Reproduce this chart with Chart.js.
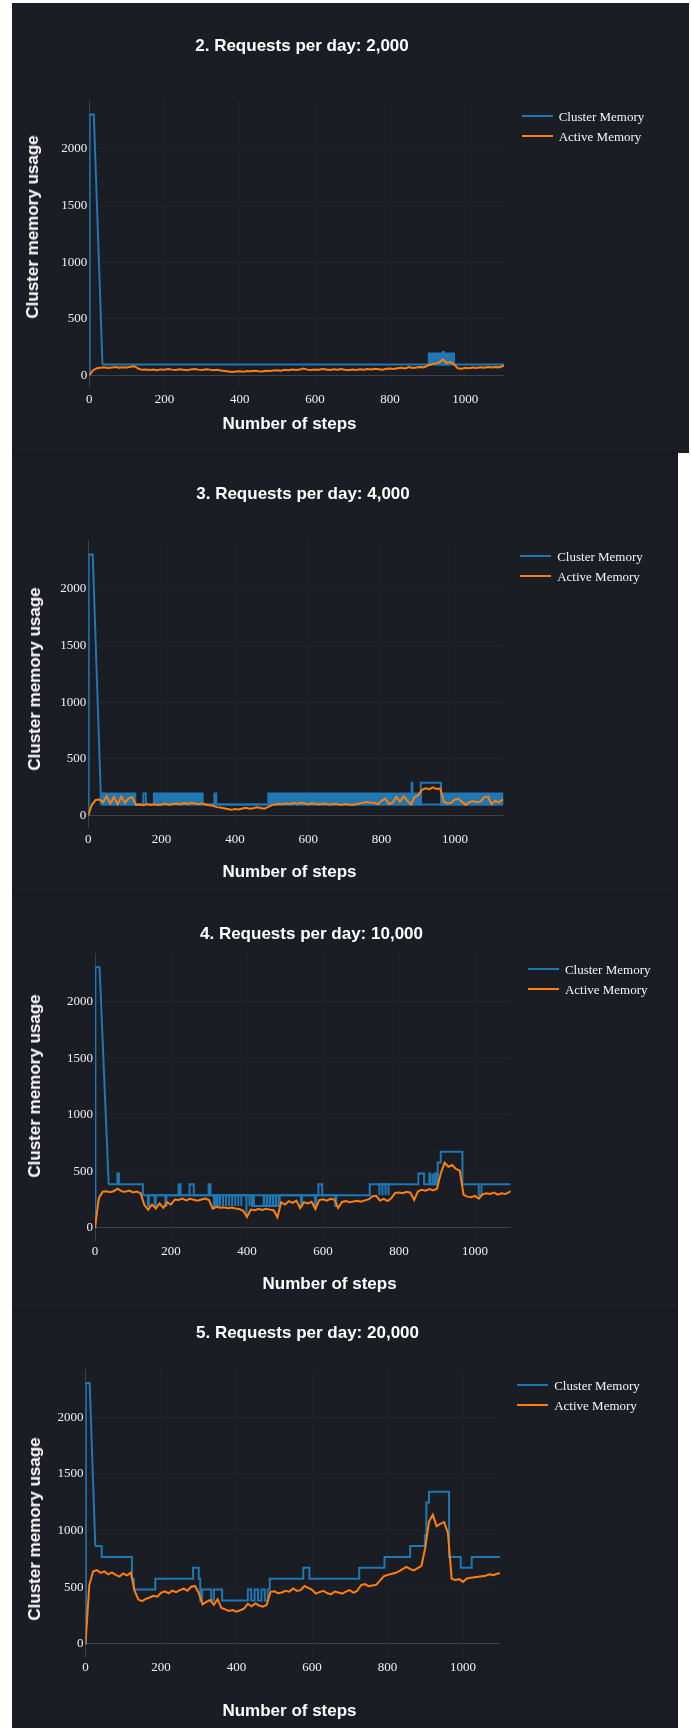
<!DOCTYPE html>
<html><head><meta charset="utf-8">
<script src="https://cdn.jsdelivr.net/npm/chart.js@4.4.1/dist/chart.umd.min.js"></script>
<style>
html,body{margin:0;padding:0;background:#ffffff;}
body{width:691px;height:1728px;position:relative;overflow:hidden;}
.panel{position:absolute;left:12px;background:#1b1d24;}
.sep{position:absolute;left:12px;height:2px;background:#17191f;}
canvas{position:absolute;}
.t{position:absolute;white-space:nowrap;line-height:1;transform:translate(-50%,-50%);font:bold 17px "Liberation Sans",Arial,sans-serif;color:#ffffff;}
.yt{transform:translate(-50%,-50%) rotate(-90deg);}
.leg{position:absolute;font:13px "Liberation Serif","Times New Roman",serif;color:#f2f5fa;white-space:nowrap;line-height:1;transform:translateY(-50%);}
.legline{position:absolute;height:2px;}
</style></head><body>
<script>
// ---------- shared ----------
const STEP = 10; // sampling interval (steps) of the Active Memory arrays
const xTicks = [0, 200, 400, 600, 800, 1000];
const yTicks = [0, 500, 1000, 1500, 2000];
const yRange = [-115, 2430];
const seriesNames = ['Cluster Memory', 'Active Memory'];

// ---------- panel 1 : 2,000 requests/day ----------
const p1Title = '2. Requests per day: 2,000';
const p1Active = [0,45,62,66,70,64,68,72,66,70,
 68,76,80,60,48,52,46,50,44,52,
 48,55,50,46,53,49,45,52,56,50,
 47,53,50,44,49,42,38,34,30,33,
 36,32,38,35,40,36,34,39,37,42,
 45,41,48,44,50,47,52,60,50,46,
 52,49,55,51,47,53,50,56,48,44,
 51,47,53,49,55,52,58,54,50,57,
 60,56,62,66,61,72,64,68,74,70,
 86,98,104,112,140,108,116,96,62,58,
 66,62,68,64,70,66,72,68,74,70,
 82];
const p1ActiveEnd = [1103, 86];
const p1RampX = [0, 1, 12, 35];
const p1RampY = [0, 2304, 2304, 96];
const p1RunX = [35, 1103];
const p1RunY = [96, 96];
const p1Toggle = [903,906, 907,910, 911,913, 914,917, 918,921, 922,924, 925,928, 929,932, 933,935, 936,939, 944,946, 947,950, 951,954, 955,957, 958,961, 962,965, 966,970];
const p1Spike = [940,943];
const p1Levels = [[96,192],[96,205]];

// ---------- panel 2 : 4,000 requests/day ----------
const p2Title = '3. Requests per day: 4,000';
const p2Active = [0,95,135,140,115,168,105,160,95,165,
 110,150,160,92,95,88,100,92,98,90,
 96,102,94,99,104,97,108,101,110,104,
 98,105,96,88,84,72,68,62,55,48,
 56,52,60,66,58,62,70,65,58,72,
 90,96,102,98,105,100,108,103,110,104,
 98,106,101,95,103,99,94,101,97,92,
 99,95,90,97,104,112,118,110,110,98,
 130,148,100,112,162,120,168,130,96,160,
 178,225,238,230,246,232,236,120,104,110,
 140,145,118,92,118,124,116,122,160,165,
 98,128,112,138];
const p2ActiveEnd = [1132, 140];
const p2RampX = [0, 1, 12, 34];
const p2RampY = [0, 2304, 2304, 192];
const p2RunX = [34, 882, 884, 907, 962, 1132];
const p2RunY = [96, 288, 96, 288, 96, 96];
const p2Toggle = [34,37, 38,41, 42,45, 47,50, 51,54, 55,58, 60,63, 64,67, 68,71, 73,76, 77,80, 81,84, 86,89, 90,93, 94,97, 99,102, 103,106, 107,110, 112,115, 116,119, 120,123, 124,128,
 150,157,
 179,182, 183,186, 187,190, 192,195, 196,199, 200,203, 205,208, 209,212, 213,216, 218,221, 222,225, 226,229, 231,234, 235,238, 239,242, 244,247, 248,251, 252,255, 257,260, 261,264, 265,268, 270,273, 274,277, 278,281, 283,286, 287,290, 291,294, 296,299, 300,303, 304,307, 308,312,
 344,349,
 491,494, 496,499, 500,504, 506,509, 511,514, 515,519, 521,524, 526,529, 530,534, 536,539, 541,544, 545,549, 551,554, 556,559, 560,564, 566,569, 571,574, 575,579, 581,584, 586,589, 590,594, 596,599, 601,604, 605,609, 611,614, 616,619, 620,624, 626,629, 631,634, 635,639, 641,644, 646,649, 650,654, 656,659, 661,664, 665,669, 671,674, 676,679, 680,684, 686,689, 691,694, 695,699, 701,704, 706,709, 710,714, 716,719, 721,724, 725,729, 731,734, 736,739, 740,744, 746,749, 751,754, 755,759, 761,764, 766,769, 770,774, 776,779,
 782,785, 790,793, 797,800, 805,808, 812,815, 820,823, 827,830, 835,838, 842,845, 850,853, 857,860, 865,868, 872,875, 878,881,
 886,889, 891,894, 896,899, 900,903, 904,907,
 964,968, 972,975, 978,982, 986,989, 993,997, 1001,1004, 1008,1012, 1016,1019, 1023,1027, 1031,1034, 1038,1042, 1046,1049, 1053,1057, 1061,1064, 1068,1072, 1076,1079, 1083,1087, 1091,1094, 1098,1102, 1106,1109, 1113,1117, 1121,1124, 1127,1131];
const p2Levels = [[96,192]];

// ---------- panel 3 : 10,000 requests/day ----------
const p3Title = '4. Requests per day: 10,000';
const p3Active = [0,260,318,322,315,325,345,322,318,328,
 312,320,305,200,158,205,170,215,175,225,
 205,250,245,258,242,255,248,238,250,258,
 245,168,185,176,180,172,178,170,165,150,
 95,160,155,165,158,168,160,155,92,225,
 205,235,220,240,172,225,215,230,165,245,
 252,240,255,248,175,228,235,225,232,238,
 230,242,250,278,282,240,255,235,262,308,
 312,305,318,310,245,322,335,328,342,330,
 345,480,575,540,555,520,505,290,275,270,
 282,258,295,305,298,310,292,305,298,315];
const p3ActiveEnd = [1094, 324];
const p3RampX = [0, 1, 12, 36];
const p3RampY = [0, 2304, 2304, 384];
const p3RunX = [36, 59, 63, 126, 220, 225, 249, 260, 299, 304, 418, 486, 588, 598, 723, 851, 866, 902, 910, 967, 1010, 1017, 1094];
const p3RunY = [384, 480, 384, 288, 384, 288, 384, 288, 384, 288, 192, 288, 384, 288, 384, 480, 384, 576, 672, 384, 288, 384, 384];
const p3Dip288 = [139,142, 157,160, 185,188, 313,316, 321,323, 329,329, 337,337, 345,345, 353,353, 361,361, 369,369, 377,377, 385,385, 406,407, 413,414, 542,545, 579,582, 632,635];
const p3Deep = [398,399];
const p3Up192 = [444,445, 452,453, 460,461, 468,469, 476,477, 483,484];
const p3Dip384 = [748,749, 756,757, 764,765, 772,773];
const p3Up384 = [880,882, 887,889, 894,896, 899,901];
const p3Levels = [[288,192],[288,96],[192,288],[384,288],[384,480]];

// ---------- panel 4 : 20,000 requests/day ----------
const p4Title = '5. Requests per day: 20,000';
const p4Active = [0,520,640,652,628,640,615,632,610,595,
 622,605,630,470,392,378,398,410,425,418,
 452,465,448,470,458,476,488,470,505,512,
 450,350,372,388,345,395,318,305,292,300,
 286,298,312,355,332,358,340,330,345,460,
 465,448,455,470,462,490,468,475,512,495,
 478,445,458,470,450,438,462,455,445,462,
 476,452,470,520,528,510,516,522,560,598,
 610,618,626,640,660,680,662,650,670,690,
 850,1080,1140,1040,1060,1075,980,575,565,572,
 548,578,585,590,593,598,602,615,608,620];
const p4ActiveEnd = [1098, 624];
const p4RampX = [0, 1, 11, 26];
const p4RampY = [0, 2304, 2304, 864];
const p4RunX = [26,43,123,128,185,285,300,304,309,333,340,362,430,439,448,457,466,475,483,488,577,593,725,792,860,899,903,910,963,994,1023,1098];
const p4RunY = [864,768,576,480,576,672,576,384,480,384,480,384,480,384,480,384,480,384,480,576,672,576,672,768,864,960,1248,1344,768,672,768,768];

// ---------- style ----------
const BLUE = '#1f77b4', ORANGE = '#ff7f0e';
const GRID = '#212329', ZERO = '#3e4148', TICK = '#eef0f4';

function sampled(values, end) {
  const pts = values.map((v, i) => ({x: i * STEP, y: v}));
  pts.push({x: end[0], y: end[1]});
  return pts;
}
function zipXY(xs, ys) { return xs.map((x, i) => ({x: x, y: ys[i]})); }
function pulses(groups) {
  const pts = [];
  groups.forEach(g => {
    for (let i = 0; i < g.xs.length; i += 2) {
      const a = g.xs[i], b = g.xs[i + 1];
      pts.push({x: a, y: g.lv[0]}, {x: a, y: g.lv[1]}, {x: b, y: g.lv[1]}, {x: b, y: g.lv[0]});
    }
    pts.push({x: g.xs[g.xs.length - 1], y: null});
  });
  return pts;
}

function addText(cls, text, x, y) {
  const d = document.createElement('div');
  d.className = cls; d.textContent = text;
  d.style.left = x + 'px'; d.style.top = y + 'px';
  document.body.appendChild(d);
}

const panels = [
 {top:3, h:450, right:689, L:89.3, R:504, T:100.2, B:388.3, xMax:1103,
  title:p1Title, tx:302, ty:45.7, xtx:289.5, xty:424, ytx:33.2, yty:226.7, lgx:521.5, lgy:115.7,
  active:sampled(p1Active, p1ActiveEnd), ramp:zipXY(p1RampX,p1RampY), runs:zipXY(p1RunX,p1RunY),
  pulses:pulses([{xs:p1Toggle, lv:p1Levels[0]},{xs:p1Spike, lv:p1Levels[1]}])},
 {top:453, h:440, right:678, L:88.3, R:503.3, T:540.2, B:828.3, xMax:1132,
  title:p2Title, tx:303, ty:494, xtx:289.5, xty:872.3, ytx:35.4, yty:679.3, lgx:520, lgy:555.7,
  active:sampled(p2Active, p2ActiveEnd), ramp:zipXY(p2RampX,p2RampY), runs:zipXY(p2RunX,p2RunY),
  pulses:pulses([{xs:p2Toggle, lv:p2Levels[0]}])},
 {top:893, h:418, right:678, L:95, R:510.7, T:953.1, B:1240.7, xMax:1094,
  title:p3Title, tx:311.5, ty:934.3, xtx:329.6, xty:1284, ytx:35.4, yty:1085.7, lgx:527.7, lgy:968.7,
  active:sampled(p3Active, p3ActiveEnd), ramp:zipXY(p3RampX,p3RampY), runs:zipXY(p3RunX,p3RunY),
  pulses:pulses([{xs:p3Dip288, lv:p3Levels[0]},{xs:p3Deep, lv:p3Levels[1]},{xs:p3Up192, lv:p3Levels[2]},{xs:p3Dip384, lv:p3Levels[3]},{xs:p3Up384, lv:p3Levels[4]}])},
 {top:1311, h:417, right:678, L:85.5, R:500, T:1368.7, B:1657, xMax:1098,
  title:p4Title, tx:307.5, ty:1333.3, xtx:289.5, xty:1710.7, ytx:34.5, yty:1528.7, lgx:517, lgy:1384.7,
  active:sampled(p4Active, p4ActiveEnd), ramp:zipXY(p4RampX,p4RampY), runs:zipXY(p4RunX,p4RunY),
  pulses:[]}
];

const YW = 40, XH = 40;
const gridColor = ctx => (ctx.tick && ctx.tick.value === 0) ? ZERO : GRID;
const tickFont = {family: '"Liberation Serif", "Times New Roman", serif', size: 13};

panels.forEach((p, idx) => {
  const W = p.right - 12;
  const bg = document.createElement('div');
  bg.className = 'panel'; bg.style.top = p.top + 'px'; bg.style.height = p.h + 'px'; bg.style.width = W + 'px';
  document.body.appendChild(bg);
  if (idx > 0) {
    const s = document.createElement('div');
    s.className = 'sep'; s.style.top = (p.top - 1) + 'px'; s.style.width = W + 'px';
    document.body.appendChild(s);
  }

  const c = document.createElement('canvas');
  c.width = W; c.height = p.h;
  c.style.left = '12px'; c.style.top = p.top + 'px';
  c.style.width = W + 'px'; c.style.height = p.h + 'px';
  document.body.appendChild(c);

  const line = (data, color, order, extra) => Object.assign({
    label: '', data: data, borderColor: color, backgroundColor: color, borderWidth: 2,
    pointRadius: 0, pointHoverRadius: 0, tension: 0, fill: false, order: order, spanGaps: false
  }, extra || {});

  new Chart(c.getContext('2d'), {
    type: 'line',
    data: {datasets: [
      line(p.active, ORANGE, 0, {label: seriesNames[1]}),
      line(p.ramp, BLUE, 1, {label: seriesNames[0]}),
      line(p.runs, BLUE, 1, {label: seriesNames[0], stepped: true}),
      line(p.pulses, BLUE, 1, {label: seriesNames[0]})
    ]},
    options: {
      responsive: false, animation: false, devicePixelRatio: 1,
      events: [],
      layout: {padding: {left: p.L - 12 - YW, right: p.right - p.R, top: p.T - p.top, bottom: p.top + p.h - p.B - XH}},
      plugins: {legend: {display: false}, tooltip: {enabled: false}, title: {display: false}},
      scales: {
        x: {type: 'linear', min: 0, max: p.xMax,
            afterBuildTicks: s => { s.ticks = xTicks.map(v => ({value: v})); },
            afterFit: s => { s.height = XH; },
            grid: {color: gridColor, drawTicks: false, lineWidth: 1},
            border: {display: false},
            ticks: {color: TICK, font: tickFont, padding: 3, maxRotation: 0, autoSkip: false, callback: v => String(v)}},
        y: {type: 'linear', min: yRange[0], max: yRange[1],
            afterBuildTicks: s => { s.ticks = yTicks.map(v => ({value: v})); },
            afterFit: s => { s.width = YW; },
            grid: {color: gridColor, drawTicks: false, lineWidth: 1},
            border: {display: false},
            ticks: {color: TICK, font: tickFont, padding: 2, autoSkip: false, callback: v => String(v)}}
      }
    }
  });

  addText('t', p.title, p.tx, p.ty);
  addText('t', 'Number of steps', p.xtx, p.xty);
  addText('t yt', 'Cluster memory usage', p.ytx, p.yty);

  [BLUE, ORANGE].forEach((col, i) => {
    const y = p.lgy + i * 20.3;
    const l = document.createElement('div');
    l.className = 'legline'; l.style.background = col;
    l.style.left = p.lgx + 'px'; l.style.width = '31px'; l.style.top = (y - 1) + 'px';
    document.body.appendChild(l);
    const d = document.createElement('div');
    d.className = 'leg'; d.textContent = seriesNames[i];
    d.style.left = (p.lgx + 37.2) + 'px'; d.style.top = y + 'px';
    document.body.appendChild(d);
  });
});
</script>
</body></html>
